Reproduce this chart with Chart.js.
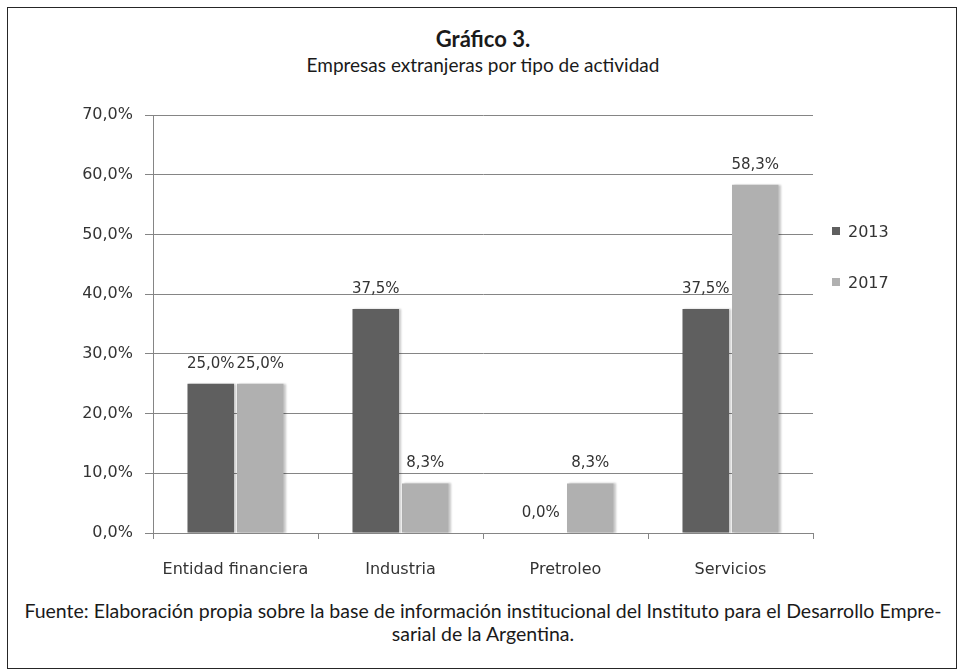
<!DOCTYPE html>
<html>
<head>
<meta charset="utf-8">
<script src="https://cdn.jsdelivr.net/npm/chart.js@4.4.1/dist/chart.umd.min.js"></script>
<style>
    html, body { margin: 0; padding: 0; background: #fff; }
    body { width: 966px; height: 671px; position: relative; overflow: hidden; }
    .frame { position: absolute; left: 7px; top: 7px; width: 950px; height: 662px; border: 1.5px solid #262626; box-sizing: border-box; }
    .title { position: absolute; left: 0; width: 966px; text-align: center; font-family: Lato, sans-serif; color: #1a1a1a; }
    #t1 { top: 25px; font-size: 22px; font-weight: bold; }
    #t2 { top: 53px; font-size: 19px; }
    #chartBox { position: absolute; left: 0; top: 90px; width: 966px; height: 500px; }
    .legend { position: absolute; left: 832px; font-family: "DejaVu Sans", sans-serif; font-size: 16px; color: #333; }
    .legend span { display: inline-block; width: 8px; height: 8px; margin-right: 8px; vertical-align: 2px; }
    .footer { position: absolute; left: 0; width: 966px; top: 599px; text-align: center; font-family: Lato, sans-serif; font-size: 19.5px; line-height: 23px; color: #1a1a1a; }
</style>
</head>
<body>
<div class="frame"></div>
<div class="title" id="t1">Gráfico 3.</div>
<div class="title" id="t2">Empresas extranjeras por tipo de actividad</div>
<div id="chartBox"><canvas id="chart" width="966" height="500"></canvas></div>
<div id="legend"></div>
<div class="footer">Fuente: Elaboración propia sobre la base de información institucional del Instituto para el Desarrollo Empre-<br>sarial de la Argentina.</div>

<script>
const categories = ['Entidad financiera', 'Industria', 'Pretroleo', 'Servicios'];
const seriesNames = ['2013', '2017'];
const values2013 = [25.0, 37.5, 0.0, 37.5];
const values2017 = [25.0, 8.3, 8.3, 58.3];
const seriesColors = ['#5f5f5f', '#b0b0b0'];
const yTicks = [0, 10, 20, 30, 40, 50, 60, 70];

const fmt = v => v.toFixed(1).replace('.', ',') + '%';
const textFont = '"DejaVu Sans", sans-serif';

// sombra suave a la derecha de las barras
const barShadow = {
    id: 'barShadow',
    beforeDatasetsDraw(chart) {
        const ctx = chart.ctx;
        ctx.save();
        ctx.shadowColor = 'rgba(0,0,0,0.22)';
        ctx.shadowOffsetX = 2;
        ctx.shadowOffsetY = 0;
        ctx.shadowBlur = 2;
    },
    afterDatasetsDraw(chart) {
        chart.ctx.restore();
    }
};

// etiquetas de valor encima de cada barra
const valueLabels = {
    id: 'valueLabels',
    afterDatasetsDraw(chart) {
        const ctx = chart.ctx;
        ctx.save();
        ctx.font = '15px ' + textFont;
        ctx.fillStyle = '#333';
        ctx.textAlign = 'center';
        ctx.textBaseline = 'middle';
        chart.data.datasets.forEach((ds, i) => {
            chart.getDatasetMeta(i).data.forEach((bar, j) => {
                ctx.fillText(fmt(ds.data[j]), bar.x, bar.y - 20);
            });
        });
        ctx.restore();
    }
};

const chart = new Chart(document.getElementById('chart'), {
    type: 'bar',
    data: {
        labels: categories,
        datasets: [
            { label: seriesNames[0], data: values2013, backgroundColor: seriesColors[0] },
            { label: seriesNames[1], data: values2017, backgroundColor: seriesColors[1] }
        ]
    },
    options: {
        responsive: false,
        animation: false,
        devicePixelRatio: 1,
        categoryPercentage: 0.6,
        barPercentage: 0.94,
        layout: { padding: { left: 0, right: 153, top: 25, bottom: 0 } },
        plugins: {
            legend: { display: false },
            tooltip: { enabled: false }
        },
        scales: {
            y: {
                min: 0,
                max: 70,
                afterBuildTicks: s => { s.ticks = yTicks.map(v => ({ value: v })); },
                afterFit: s => { s.width = 153; },
                ticks: {
                    callback: v => fmt(v),
                    font: { family: textFont, size: 16 },
                    color: '#333',
                    padding: 12
                },
                grid: { color: '#858585', tickLength: 8, lineWidth: 1 },
                border: { color: '#858585' }
            },
            x: {
                afterFit: s => { s.height = 57; },
                ticks: {
                    font: { family: textFont, size: 16 },
                    color: '#333',
                    padding: 21
                },
                grid: { offset: true, drawOnChartArea: false, color: '#858585', tickLength: 6 },
                border: { color: '#858585' }
            }
        }
    },
    plugins: [barShadow, valueLabels]
});

// leyenda a la derecha
const legendTops = [222, 273];
document.getElementById('legend').innerHTML = seriesNames.map((n, i) =>
    `<div class="legend" style="top:${legendTops[i]}px"><span style="background:${seriesColors[i]}"></span>${n}</div>`
).join('');
</script>
</body>
</html>
